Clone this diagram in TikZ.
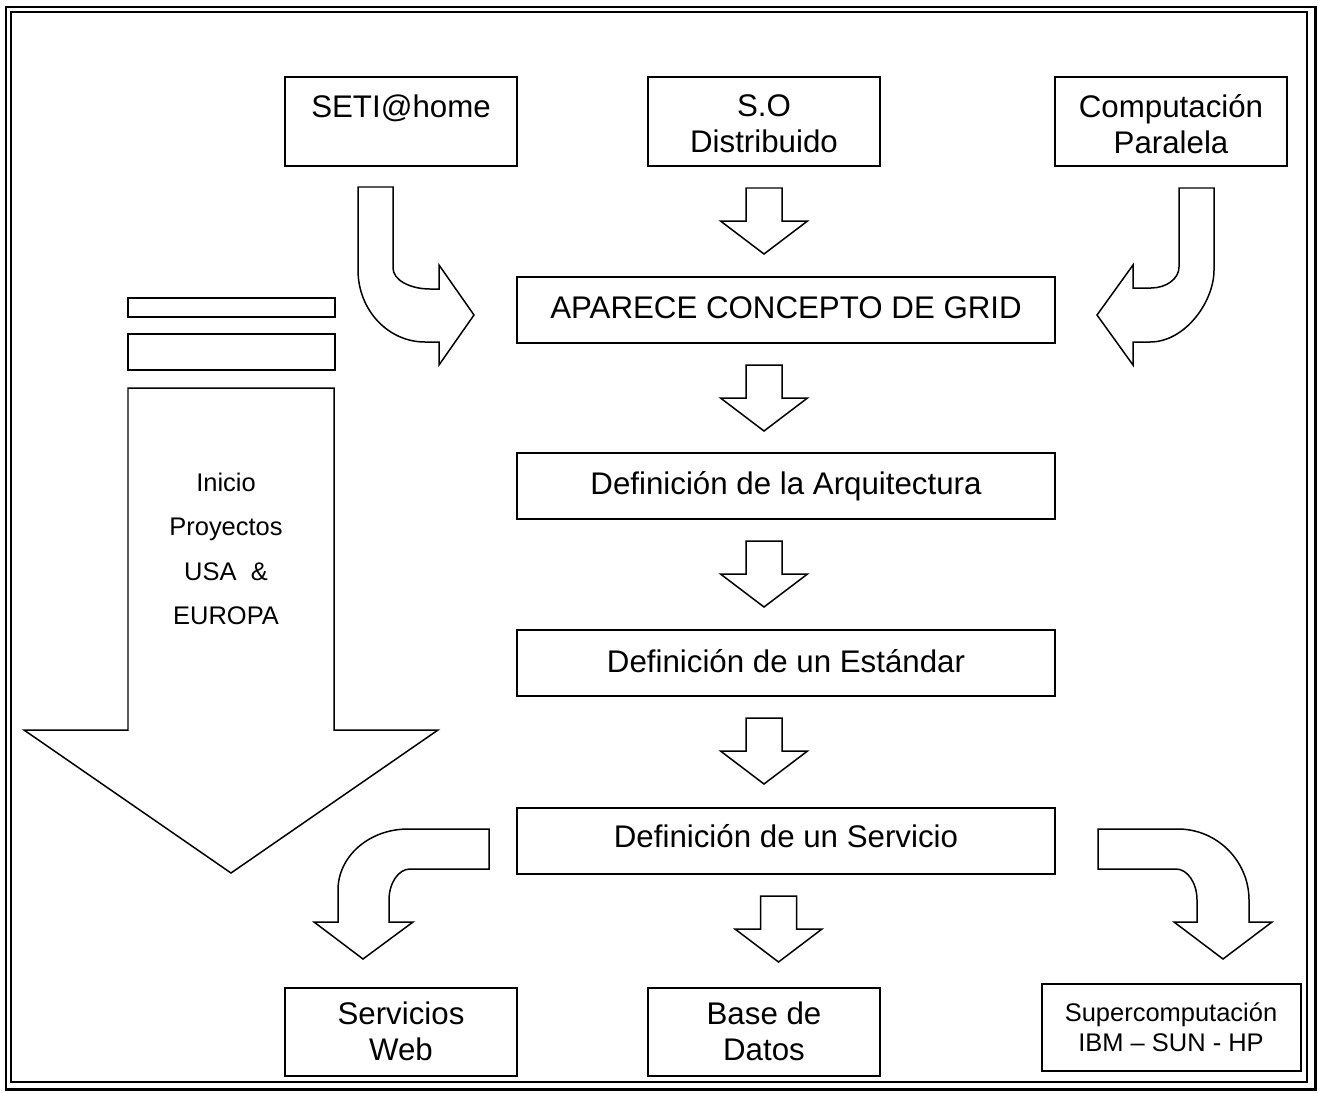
\documentclass[tikz,border=0pt]{standalone}
\usepackage{fontspec}
\setmainfont{Liberation Sans}
\usetikzlibrary{fit}

\tikzset{
  boxline/.style={line width=1.2pt, draw=black},
  arrowline/.style={line width=0.85pt, draw=black, fill=white, line join=miter},
  box/.style={boxline, rectangle, inner sep=0pt, fit={#1}},
  bigtext/.style={font=\fontsize{17.8}{20.4}\selectfont, inner sep=0pt, align=center},
  smalltext/.style={font=\fontsize{14.5}{17}\selectfont, inner sep=0pt, align=center},
  downblk/.pic={
    \draw[arrowline] (-18,0) -- (18,0) -- (18,33) -- (43.5,33) -- (0,66)
      -- (-43.5,33) -- (-18,33) -- cycle;
  }
}

\begin{document}
\begin{tikzpicture}[x=0.02cm, y=-0.02cm]
\useasboundingbox (0,0) rectangle (1321,1092);

% double page frame
\draw[line width=1.7pt] (6,7) rectangle (1315,1089);
\draw[line width=0.9pt] (11,12) rectangle (1307,1082);

% sources
\node[box={(285,77)(517,166)}] (seti) {};
\node[box={(648,77)(880,166)}] (sodist) {};
\node[box={(1055,77)(1287,166)}] (comppar) {};
\node[bigtext, anchor=base] (setitxt) at (401,117) {SETI@home};
\node[bigtext] (sodisttxt) at (764,124) {S.O\\Distribuido};
\node[bigtext] (comppartxt) at (1171,124) {Computación\\Paralela};

% main chain
\node[box={(517,277)(1055,343)}] (grid) {};
\node[box={(517,453)(1055,519)}] (arq) {};
\node[box={(517,630)(1055,696)}] (est) {};
\node[box={(517,808)(1055,874)}] (serv) {};
\node[bigtext, anchor=base] (gridtxt) at (786,318) {APARECE CONCEPTO DE GRID};
\node[bigtext, anchor=base] (arqtxt) at (786,494) {Definición de la Arquitectura};
\node[bigtext, anchor=base] (esttxt) at (786,672) {Definición de un Estándar};
\node[bigtext, anchor=base] (servtxt) at (786,847) {Definición de un Servicio};

% outcomes
\node[box={(285,988)(517,1076)}] (web) {};
\node[box={(648,988)(880,1076)}] (base) {};
\node[box={(1042,984)(1301,1071)}] (sup) {};
\node[bigtext] (webtxt) at (401,1031) {Servicios\\Web};
\node[bigtext] (basetxt) at (764,1031) {Base de\\Datos};
\node[smalltext] (suptxt) at (1171,1027) {Supercomputación\\IBM – SUN - HP};

% straight block arrows
\pic at (764,188) {downblk};
\pic at (764,365) {downblk};
\pic at (764,541) {downblk};
\pic at (764,718) {downblk};
\pic at (778.5,896) {downblk};

% bent arrows into the grid concept
\draw[arrowline] (358,187) -- (393,187) -- (393,268)
  .. controls (393,280) and (410,289) .. (430,289) -- (439,289) -- (439,265)
  -- (474,315) -- (439,365) -- (439,342) -- (425,342)
  .. controls (388,342) and (358,310) .. (358,270) -- cycle;
\draw[arrowline] (1214,188) -- (1179,188) -- (1179,267)
  .. controls (1179,279) and (1166,288) .. (1151,288) -- (1133,288) -- (1133,265)
  -- (1097,315) -- (1133,365) -- (1133,342) -- (1150,342)
  .. controls (1185,342) and (1214,302) .. (1214,270) -- cycle;

% bent arrows out of the service definition
\draw[arrowline] (489,829) -- (489,869) -- (410,869)
  .. controls (398.5,869) and (389,883) .. (389,900) -- (389,922) -- (413,922)
  -- (363,959) -- (314,922) -- (338,922) -- (338,890)
  .. controls (338,856) and (369.5,829) .. (408,829) -- cycle;
\draw[arrowline] (1098,829) -- (1178,829)
  .. controls (1217,829) and (1249,861) .. (1249,900) -- (1249,922) -- (1272,922)
  -- (1223,959) -- (1174,922) -- (1197,922) -- (1197,900)
  .. controls (1197,883) and (1187.5,869) .. (1176,869) -- (1098,869) -- cycle;

% timeline of projects on the left
\draw[boxline] (128,298) rectangle (335,317);
\draw[boxline] (128,334) rectangle (335,370);
\draw[arrowline] (128,388) -- (334,388) -- (334,730) -- (438,730) -- (231,873)
  -- (24,730) -- (128,730) -- cycle;
\node[smalltext, font=\fontsize{14.5}{25.2}\selectfont] (inicio) at (226,549)
  {Inicio\\Proyectos\\USA \ \&\\EUROPA};
\end{tikzpicture}
\end{document}
